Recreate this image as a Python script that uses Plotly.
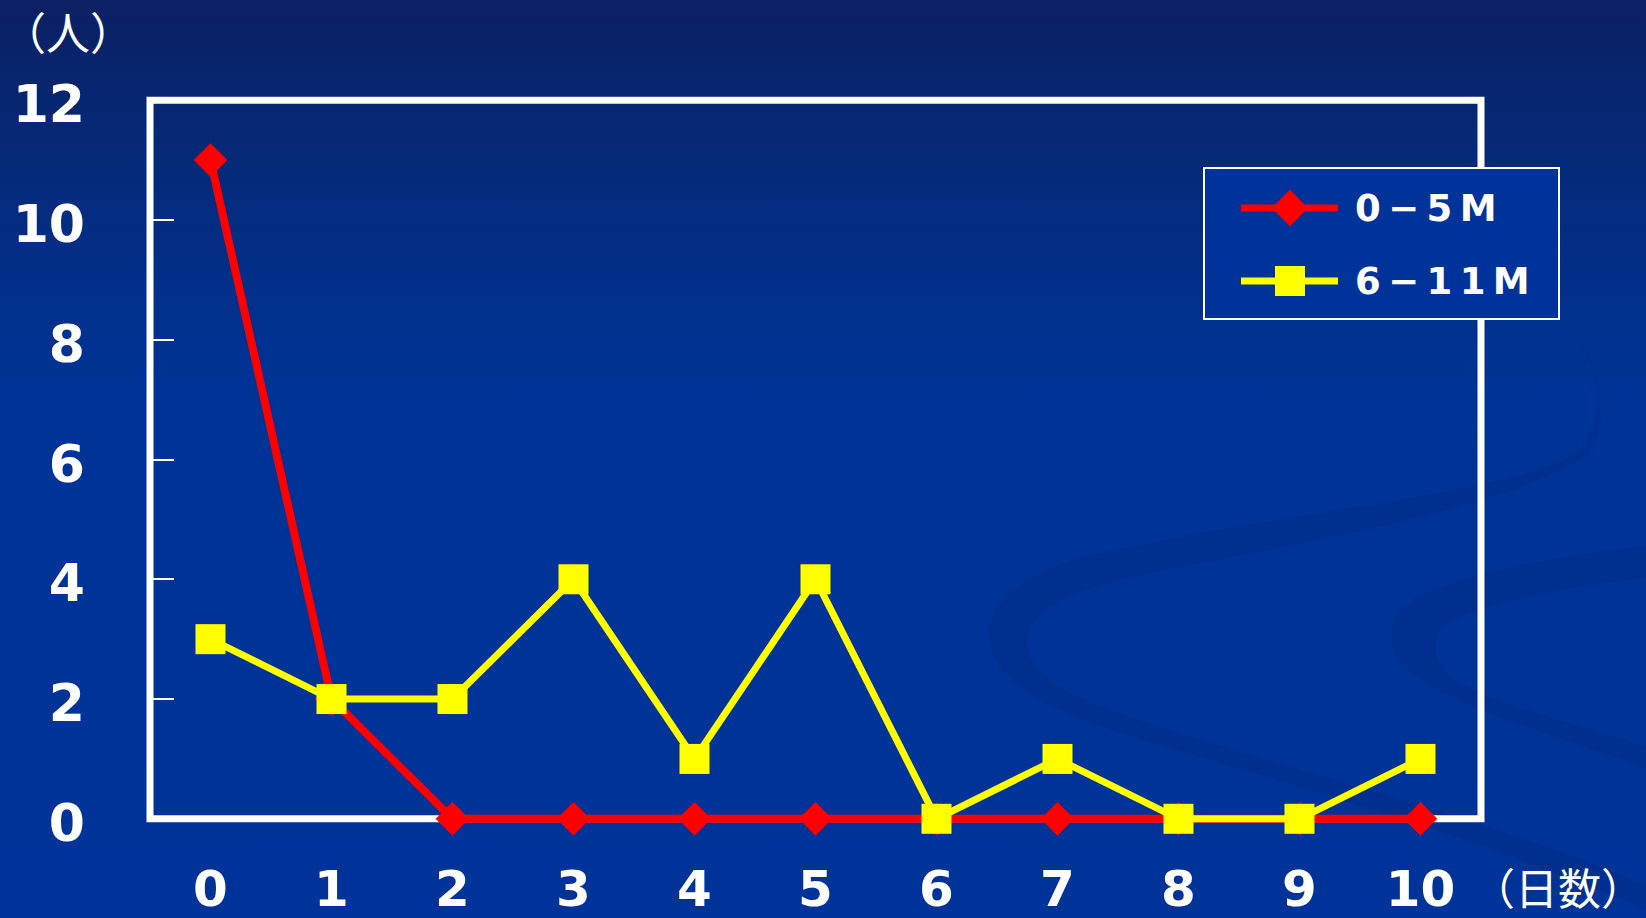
import base64
import plotly.graph_objects as go

# Days since onset and number of cases per age group
days = list(range(11))
day_labels = [str(d) for d in days]
cases_0_5m = [11, 2, 0, 0, 0, 0, 0, 0, 0, 0, 0]
cases_6_11m = [3, 2, 2, 4, 1, 4, 0, 1, 0, 0, 1]
y_tick_vals = [0, 2, 4, 6, 8, 10, 12]
series_names = ["0\u2009−\u20095\u2009M", "6\u2009−\u20091\u20091\u2009M"]

W, H = 1646, 918
Y_MIN, Y_MAX = 0, 12
Y_PAD = 0.12                     # room so lines at 0 are not clipped by the plot area
ML, MR, MT, MB = 150, 165, 93, 92
PW, PH = W - ML - MR, H - MT - MB
Y_RANGE = [Y_MIN - Y_PAD, Y_MAX + Y_PAD]


def fy(v):
    """data y -> paper fraction"""
    return (v - Y_RANGE[0]) / (Y_RANGE[1] - Y_RANGE[0])


def px_x(p):
    return (p - ML) / PW


def px_y(p):
    return (H - MB - p) / PH


BODY = "#003399"
WHITE = "#ffffff"
RED = "#ff0000"
YELLOW = "#ffff00"
X_FONT = dict(family="DejaVu Sans", size=50, color=WHITE, weight="bold")
Y_FONT = dict(family="DejaVu Sans", size=52, color=WHITE, weight="bold")
LEG_FONT = dict(family="DejaVu Sans", size=37, color=WHITE, weight="bold")
CJK_FONT = dict(family="Noto Sans CJK JP", size=44, color=WHITE)
CJK_FONT_X = dict(family="Noto Sans CJK JP", size=43, color=WHITE)

# Slide-style backdrop: vertical gradient with two faint swoosh bands
bg_svg = f"""<svg xmlns="http://www.w3.org/2000/svg" width="{W}" height="{H}" viewBox="0 0 {W} {H}" preserveAspectRatio="none">
<defs><linearGradient id="g" x1="0" y1="0" x2="0" y2="1">
<stop offset="0" stop-color="#0a2062"/>
<stop offset="0.18" stop-color="#052a7a"/>
<stop offset="0.42" stop-color="#003396"/>
<stop offset="1" stop-color="#003399"/>
</linearGradient></defs>
<rect width="{W}" height="{H}" fill="url(#g)"/>
<path d="M1565,325 C1605,365 1610,430 1570,458 C1470,500 1250,517 1083,557
 C1005,578 982,615 990,648 C1003,690 1060,715 1150,742 C1300,787 1500,845 1646,910
 L1646,885 C1500,822 1300,772 1160,727 C1085,703 1035,682 1028,650
 C1022,622 1045,598 1128,578 C1300,542 1500,512 1588,455 C1612,420 1603,362 1565,325 Z"
 fill="#002c88" opacity="0.5"/>
<path d="M1646,546 C1560,554 1445,577 1405,605 C1384,625 1388,655 1412,675
 C1470,712 1560,738 1646,768 L1646,746 C1560,720 1484,700 1455,680
 C1434,665 1430,642 1444,626 C1482,602 1560,588 1646,578 Z"
 fill="#002c88" opacity="0.5"/>
</svg>"""
bg_uri = "data:image/svg+xml;base64," + base64.b64encode(bg_svg.encode("utf-8")).decode("ascii")

fig = go.Figure()

# data series
fig.add_trace(go.Scatter(
    x=days, y=cases_0_5m, name=series_names[0], mode="lines+markers",
    line=dict(color=RED, width=8),
    marker=dict(symbol="diamond", size=26, color=RED),
    cliponaxis=False, showlegend=False,
))
fig.add_trace(go.Scatter(
    x=days, y=cases_6_11m, name=series_names[1], mode="lines+markers",
    line=dict(color=YELLOW, width=7),
    marker=dict(symbol="square", size=30, color=YELLOW),
    cliponaxis=False, showlegend=False,
))

# legend key samples, drawn in pixel space on a hidden overlay axis pair
legend_rows = [208, 281]
legend_styles = [
    (RED, 7, "diamond", 28),
    (YELLOW, 7, "square", 30),
]
for row_y, (col, lw, sym, ms) in zip(legend_rows, legend_styles):
    fig.add_trace(go.Scatter(
        x=[1241, 1338], y=[row_y, row_y], mode="lines", line=dict(color=col, width=lw),
        xaxis="x2", yaxis="y2", showlegend=False, hoverinfo="skip",
    ))
    fig.add_trace(go.Scatter(
        x=[1290], y=[row_y], mode="markers", marker=dict(symbol=sym, size=ms, color=col),
        xaxis="x2", yaxis="y2", showlegend=False, hoverinfo="skip",
    ))

fig.update_layout(
    width=W, height=H,
    margin=dict(l=ML, r=MR, t=MT, b=MB, pad=0, autoexpand=False),
    paper_bgcolor=BODY,
    plot_bgcolor="rgba(0,0,0,0)",
    showlegend=False,
    xaxis=dict(
        range=[-0.5, 10.5], tickmode="array", tickvals=days, ticktext=day_labels,
        ticks="", showgrid=False, zeroline=False, showline=False, automargin=False,
        tickfont=X_FONT, ticklabelstandoff=29,
    ),
    # boundary tick marks sitting on the y=0 frame line
    xaxis3=dict(
        overlaying="x", matches="x", anchor="free", position=fy(0), side="bottom",
        tickmode="array", tickvals=[d + 0.5 for d in days[:-1]],
        ticks="inside", ticklen=14, tickwidth=2, tickcolor=WHITE,
        showticklabels=False, showgrid=False, zeroline=False, showline=False, automargin=False,
    ),
    yaxis=dict(
        range=Y_RANGE, tickmode="array", tickvals=y_tick_vals,
        ticktext=[str(v) for v in y_tick_vals],
        ticks="inside", ticklen=24, tickwidth=2, tickcolor=WHITE,
        showgrid=False, zeroline=False, showline=False, automargin=False,
        tickfont=Y_FONT, ticklabelstandoff=64, ticklabelshift=4,
    ),
    xaxis2=dict(overlaying="x", range=[ML, ML + PW], visible=False, automargin=False),
    yaxis2=dict(overlaying="y", range=[H - MB, MT], visible=False, automargin=False),
    images=[dict(
        source=bg_uri, xref="paper", yref="paper",
        x=-ML / PW, y=1 + MT / PH, sizex=W / PW, sizey=H / PH,
        xanchor="left", yanchor="top", sizing="stretch", layer="below",
    )],
    shapes=[
        # chart frame
        dict(type="rect", xref="paper", yref="paper", x0=0, x1=1, y0=fy(Y_MIN), y1=fy(Y_MAX),
             line=dict(color=WHITE, width=7), layer="below"),
        # legend frame
        dict(type="rect", xref="paper", yref="paper",
             x0=px_x(1204), x1=px_x(1559), y0=px_y(319), y1=px_y(168),
             line=dict(color=WHITE, width=2), fillcolor=BODY, layer="below"),
    ],
    annotations=[
        dict(text=series_names[0], xref="paper", yref="paper", x=px_x(1353), y=px_y(legend_rows[0]),
             xanchor="left", yanchor="middle", showarrow=False, font=LEG_FONT),
        dict(text=series_names[1], xref="paper", yref="paper", x=px_x(1353), y=px_y(legend_rows[1]),
             xanchor="left", yanchor="middle", showarrow=False, font=LEG_FONT),
        dict(text="（人）", xref="paper", yref="paper", x=px_x(0), y=px_y(31),
             xanchor="left", yanchor="middle", showarrow=False, font=CJK_FONT),
        dict(text="（日数）", xref="paper", yref="paper", x=px_x(W), y=px_y(886),
             xanchor="right", yanchor="middle", showarrow=False, font=CJK_FONT_X),
    ],
)

fig.write_html("out.html")
